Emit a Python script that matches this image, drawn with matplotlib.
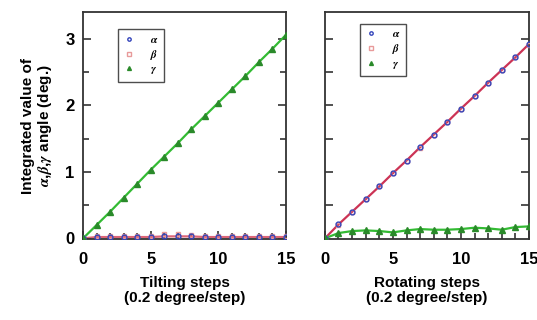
import numpy as np
import matplotlib.pyplot as plt

plt.rcParams['font.family'] = ['Liberation Sans', 'DejaVu Sans']
plt.rcParams['font.weight'] = 'bold'
plt.rcParams['mathtext.fontset'] = 'stix'

steps = np.arange(16)

# tilting experiment
tilt_alpha = [0, 0.02, 0.02, 0.02, 0.02, 0.02, 0.03, 0.03, 0.03, 0.02, 0.02, 0.02, 0.02, 0.02, 0.02, 0.02]
tilt_beta = [0, 0.03, 0.03, 0.03, 0.03, 0.03, 0.06, 0.06, 0.05, 0.03, 0.03, 0.03, 0.03, 0.03, 0.03, 0.03]
tilt_gamma = [0, 0.20, 0.40, 0.61, 0.82, 1.03, 1.23, 1.43, 1.64, 1.84, 2.04, 2.24, 2.44, 2.65, 2.85, 3.06]

# rotating experiment
rot_alpha = [0, 0.21, 0.40, 0.59, 0.78, 0.98, 1.17, 1.37, 1.56, 1.75, 1.95, 2.14, 2.34, 2.53, 2.72, 2.92]
rot_beta = [0, 0.20, 0.40, 0.59, 0.78, 0.98, 1.17, 1.36, 1.56, 1.75, 1.95, 2.14, 2.33, 2.53, 2.72, 2.91]
rot_gamma = [0, 0.08, 0.11, 0.12, 0.11, 0.09, 0.12, 0.14, 0.13, 0.13, 0.14, 0.16, 0.15, 0.13, 0.17, 0.18]

fig = plt.figure(figsize=(5.37, 3.2), dpi=100)
ax1 = fig.add_axes([0.1546, 0.253, 0.378, 0.709])
ax2 = fig.add_axes([0.605, 0.253, 0.380, 0.709])


def style(ax, show_ylabels):
    ax.set_xlim(0, 15)
    ax.set_ylim(-0.01, 3.4)
    ax.set_xticks([0, 5, 10, 15])
    ax.set_xticks(range(16), minor=True)
    ax.set_yticks([0, 1, 2, 3])
    ax.set_yticks([0.5, 1.5, 2.5], minor=True)
    ax.tick_params(direction='in', which='both', right=True, labelsize=12,
                   width=1.2, color='#333333')
    ax.tick_params(axis='x', pad=9)
    ax.tick_params(axis='y', pad=6)
    ax.tick_params(which='major', length=6)
    ax.tick_params(which='minor', length=4)
    ax.tick_params(axis='x', which='both', top=False)
    if not show_ylabels:
        ax.tick_params(axis='y', labelleft=False)
        ax.set_yticks([0.5, 1, 1.5, 2, 2.5, 3])
    for s in ax.spines.values():
        s.set_linewidth(1.3)
        s.set_color('#333333')


def draw(ax, a, b, g, line_col_ab):
    ax.plot(steps, a, color=line_col_ab, lw=1.6, zorder=2)
    ax.plot(steps, g, color='#33bb33', lw=1.6, zorder=2)
    ax.plot(steps, b, 's', ms=3.5, mfc='none', mec='#e89a9a', mew=1.0, label=r'$\beta$', zorder=3)
    ax.plot(steps, a, 'o', ms=3.5, mfc='none', mec='#3344bb', mew=1.0, label=r'$\alpha$', zorder=3)
    ax.plot(steps, g, '^', ms=4, color='#2a8a2a', label=r'$\gamma$', zorder=4)
    h, lab = ax.get_legend_handles_labels()
    leg = ax.legend([h[1], h[0], h[2]], [lab[1], lab[0], lab[2]],
                    loc='upper left', fontsize=8,
                    frameon=True, fancybox=False, edgecolor='#222222',
                    handlelength=1.0, handletextpad=1.4, labelspacing=0.25,
                    borderpad=0.5, markerscale=0.7, borderaxespad=0)
    leg.get_frame().set_linewidth(1.0)
    return leg


l1 = draw(ax1, tilt_alpha, tilt_beta, tilt_gamma, '#dd6677')
l1.set_bbox_to_anchor((0.17, 0.925))
l2 = draw(ax2, rot_alpha, rot_beta, rot_gamma, '#cc3355')
l2.set_bbox_to_anchor((0.17, 0.95))

style(ax1, True)
style(ax2, False)

ax1.set_ylabel('Integrated value of\n' + r'$\alpha$,$\beta$,$\gamma$ angle (deg.)',
               fontsize=11, fontweight='bold', labelpad=8, linespacing=1.1)
ax1.set_xlabel('Tilting steps\n(0.2 degree/step)', fontsize=11, fontweight='bold',
               labelpad=7, linespacing=1.1)
ax2.set_xlabel('Rotating steps\n(0.2 degree/step)', fontsize=11, fontweight='bold',
               labelpad=7, linespacing=1.1)

fig.savefig('out.png', dpi=100)
